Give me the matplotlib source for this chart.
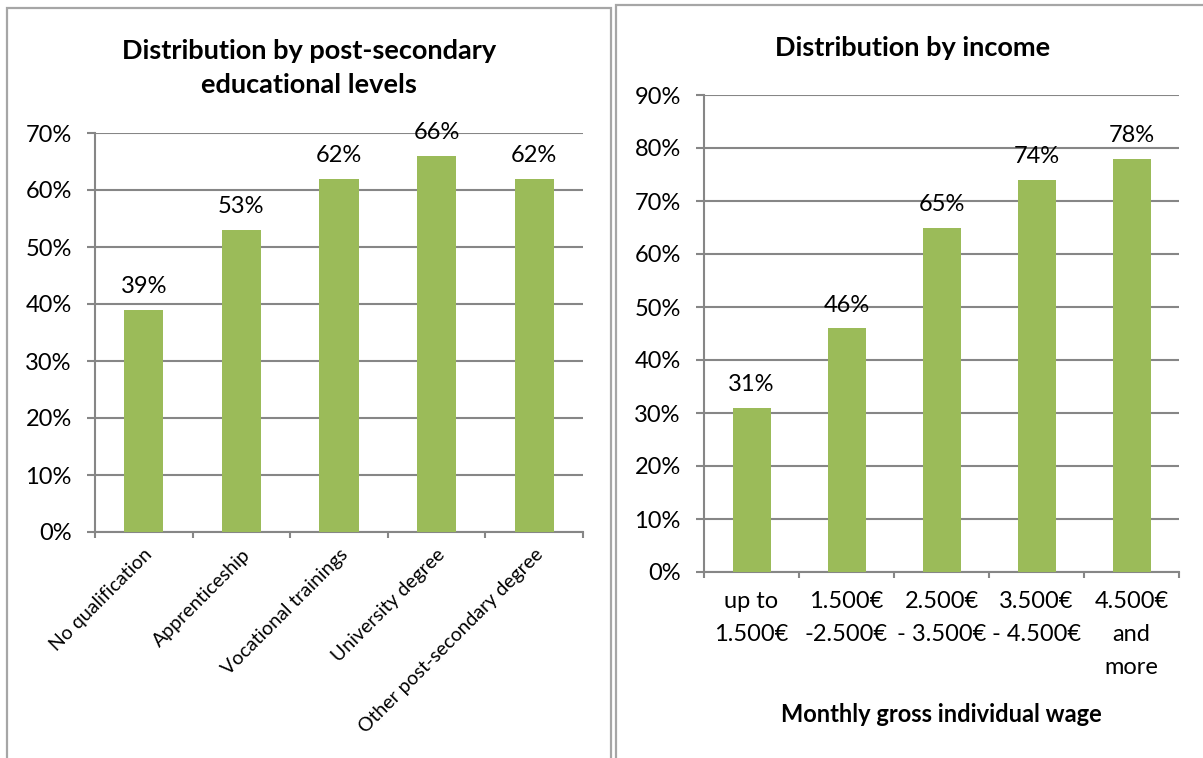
import matplotlib.pyplot as plt
from matplotlib.patches import Rectangle
from matplotlib.ticker import MultipleLocator, FuncFormatter

plt.rcParams['font.family'] = ['Lato', 'DejaVu Sans']

# Data
edu_levels = ["No qualification", "Apprenticeship", "Vocational trainings",
              "University degree", "Other post-secondary degree"]
edu_share = [39, 53, 62, 66, 62]

income_bands = ["up to\n1.500€", "1.500€\n-2.500€", "2.500€\n- 3.500€",
                "3.500€\n- 4.500€", "4.500€\nand\nmore"]
income_share = [31, 46, 65, 74, 78]

BAR = '#9BBB59'
GRID = '#868686'
FRAME = '#a6a6a6'

W, H = 1203, 758
fig = plt.figure(figsize=(W / 100, H / 100), dpi=100)


def px_axes(x0, y0, x1, y1):
    # axes from pixel box (top-left origin)
    return fig.add_axes([x0 / W, 1 - y1 / H, (x1 - x0) / W, (y1 - y0) / H])


def style(ax, values, ymax):
    x = range(len(values))
    ax.bar(x, values, width=0.4, color=BAR, zorder=3)
    for xi, v in zip(x, values):
        ax.annotate(f"{v}%", (xi, v), xytext=(0, 9), textcoords='offset points',
                    ha='center', va='bottom', fontsize=17, color='black')
    ax.set_xlim(-0.5, len(values) - 0.5)
    ax.set_ylim(0, ymax)
    ax.yaxis.set_major_locator(MultipleLocator(10))
    ax.yaxis.set_major_formatter(FuncFormatter(lambda v, p: f"{v:.0f}%"))
    ax.grid(axis='y', color=GRID, lw=1.5, zorder=0)
    for s in ['top', 'right']:
        ax.spines[s].set_visible(False)
    for s in ['left', 'bottom']:
        ax.spines[s].set_color(GRID)
        ax.spines[s].set_linewidth(1.5)
    ax.set_xticks([i - 0.5 for i in range(len(values) + 1)], minor=False)
    ax.set_xticklabels([])
    ax.set_xticks(list(x), minor=True)
    ax.tick_params(axis='x', which='major', length=4.5, width=1.5, color=GRID)
    ax.tick_params(axis='x', which='minor', length=0, pad=6)
    ax.tick_params(axis='y', length=5.8, width=1.5, color=GRID, pad=11,
                   labelsize=17)


# Left: educational levels
ax1 = px_axes(95, 133, 583, 532)
style(ax1, edu_share, 70)
ax1.set_xticklabels(edu_levels, minor=True, rotation=45, ha='right',
                    rotation_mode='anchor', fontsize=14)
ax1.tick_params(axis='x', which='minor', pad=10)
fig.text(309 / W, 1 - 68 / H, "Distribution by post-secondary\neducational levels",
         ha='center', va='center', fontsize=19.5, fontweight='bold',
         linespacing=1.5)

# Right: income
ax2 = px_axes(704, 95, 1179, 572)
style(ax2, income_share, 90)
ax2.set_xticklabels(income_bands, minor=True, fontsize=17, linespacing=1.7,
                    va='top')
ax2.tick_params(axis='x', which='minor', pad=14)
ax2.set_xlabel("Monthly gross individual wage", fontsize=17,
               fontweight='bold', labelpad=18)
fig.text(913 / W, 1 - 48 / H, "Distribution by income", ha='center',
         va='center', fontsize=19.5, fontweight='bold')

# chart area frames
fig.add_artist(Rectangle((7 / W, -0.01), (611 - 7) / W, 1.01 - 8 / H,
                         transform=fig.transFigure, fill=False,
                         edgecolor=FRAME, lw=1.6))
fig.add_artist(Rectangle((616 / W, -0.01), 0.6, 1.01 - 5 / H,
                         transform=fig.transFigure, fill=False,
                         edgecolor=FRAME, lw=1.6))

fig.savefig('out.png', dpi=100)
